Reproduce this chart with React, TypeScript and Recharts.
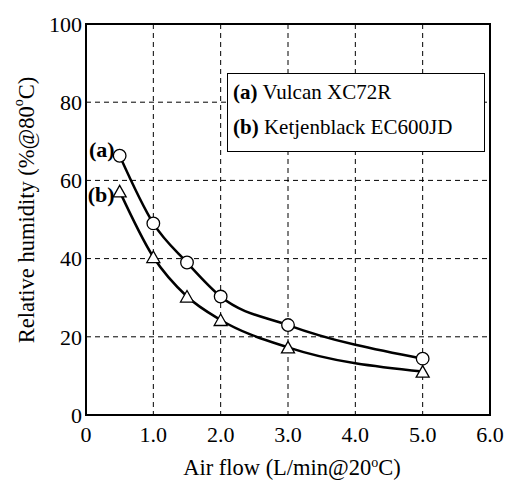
import React from 'react';
import {
  LineChart,
  Line,
  XAxis,
  YAxis,
  CartesianGrid,
  ReferenceArea,
  Label,
} from 'recharts';

// Relative humidity vs air flow
const airFlow = [0.5, 1.0, 1.5, 2.0, 3.0, 5.0];
const vulcanRH = [66.3, 49.0, 39.0, 30.3, 23.0, 14.4];
const ketjenRH = [57.2, 40.4, 30.3, 24.3, 17.3, 11.1];
const xTicks = [0, 1, 2, 3, 4, 5, 6];
const yTicks = [0, 20, 40, 60, 80, 100];
const seriesNames = ['Vulcan XC72R', 'Ketjenblack EC600JD'];
const seriesTags = ['(a)', '(b)'];

const data = airFlow.map((x, i) => ({ x, a: vulcanRH[i], b: ketjenRH[i] }));

const FONT = 'Liberation Serif, serif';
const FS = 22;

const CircleDot = (props: any) => {
  const { cx, cy } = props;
  if (cx == null || cy == null) return null;
  return <circle cx={cx} cy={cy} r={6.3} fill="#fff" stroke="#000" strokeWidth={1.3} />;
};

const TriangleDot = (props: any) => {
  const { cx, cy } = props;
  if (cx == null || cy == null) return null;
  const pts = `${cx},${cy - 6} ${cx - 6.5},${cy + 5.5} ${cx + 6.5},${cy + 5.5}`;
  return <polygon points={pts} fill="#fff" stroke="#000" strokeWidth={1.3} />;
};

const tagLabel = (tag: string, dy: number) => (props: any) => {
  const { x, y, index } = props;
  if (index !== 0) return null;
  return (
    <text x={x - 5} y={y + dy} textAnchor="end" fontFamily={FONT} fontSize={FS} fontWeight="bold" fill="#000">
      {tag}
    </text>
  );
};

const YTitle = () => {
  const cy = 210;
  const cx = 26;
  return (
    <text
      x={cx}
      y={cy}
      transform={`rotate(-90, ${cx}, ${cy})`}
      textAnchor="middle"
      dominantBaseline="central"
      fontFamily={FONT}
      fontSize={22.5}
      fill="#000"
    >
      Relative humidity (%@80
      <tspan fontSize={14} dy={-8}>o</tspan>
      <tspan dy={8}>C)</tspan>
    </text>
  );
};

const XTitle = (props: any) => {
  const { viewBox } = props;
  const cx = viewBox.x + viewBox.width / 2 + 4;
  return (
    <text x={cx} y={475} textAnchor="middle" fontFamily={FONT} fontSize={22.5} fill="#000">
      Air flow (L/min@20
      <tspan fontSize={14} dy={-8}>o</tspan>
      <tspan dy={8}>C)</tspan>
    </text>
  );
};

export default function App() {
  return (
    <div style={{ position: 'absolute', left: 0, top: 0, width: 517, height: 481, background: '#fff' }}>
      <LineChart
        width={517}
        height={481}
        data={data}
        margin={{ top: 24, right: 27, bottom: 16, left: 26 }}
      >
        <CartesianGrid stroke="#000" strokeDasharray="5 4" strokeWidth={1} />
        <XAxis
          dataKey="x"
          type="number"
          domain={[0, 6]}
          ticks={xTicks}
          tickFormatter={(v: number) => (v === 0 ? '0' : v.toFixed(1))}
          tickLine={false}
          axisLine={false}
          tickSize={0}
          tickMargin={11}
          height={50}
          tick={{ fill: '#000', fontSize: FS, fontFamily: FONT }}
        >
          <Label content={XTitle} />
        </XAxis>
        <YAxis
          type="number"
          domain={[0, 100]}
          ticks={yTicks}
          tickLine={false}
          axisLine={false}
          tickSize={0}
          tickMargin={4}
          width={60}
          tick={{ fill: '#000', fontSize: FS, fontFamily: FONT }}
        >
          <Label content={YTitle} />
        </YAxis>
        <ReferenceArea
          x1={0}
          x2={6}
          y1={0}
          y2={100}
          fill="none"
          fillOpacity={0}
          stroke="#000"
          strokeWidth={2}
          ifOverflow="visible"
        />
        <Line
          type="monotone"
          dataKey="a"
          name={seriesNames[0]}
          stroke="#000"
          strokeWidth={2.5}
          dot={<CircleDot />}
          label={tagLabel(seriesTags[0], 1)}
          isAnimationActive={false}
        />
        <Line
          type="monotone"
          dataKey="b"
          name={seriesNames[1]}
          stroke="#000"
          strokeWidth={2.5}
          dot={<TriangleDot />}
          label={tagLabel(seriesTags[1], 11)}
          isAnimationActive={false}
        />
      </LineChart>
      <div
        style={{
          position: 'absolute',
          left: 227,
          top: 73,
          width: 251,
          height: 76,
          border: '1.5px solid #000',
          background: '#fff',
          fontFamily: FONT,
          fontSize: 21,
          color: '#000',
          paddingLeft: 5,
          paddingTop: 1,
          boxSizing: 'content-box',
        }}
      >
        {seriesNames.map((n, i) => (
          <div key={n} style={{ lineHeight: '35px', whiteSpace: 'nowrap' }}>
            <b>{seriesTags[i]}</b> {n}
          </div>
        ))}
      </div>
    </div>
  );
}
